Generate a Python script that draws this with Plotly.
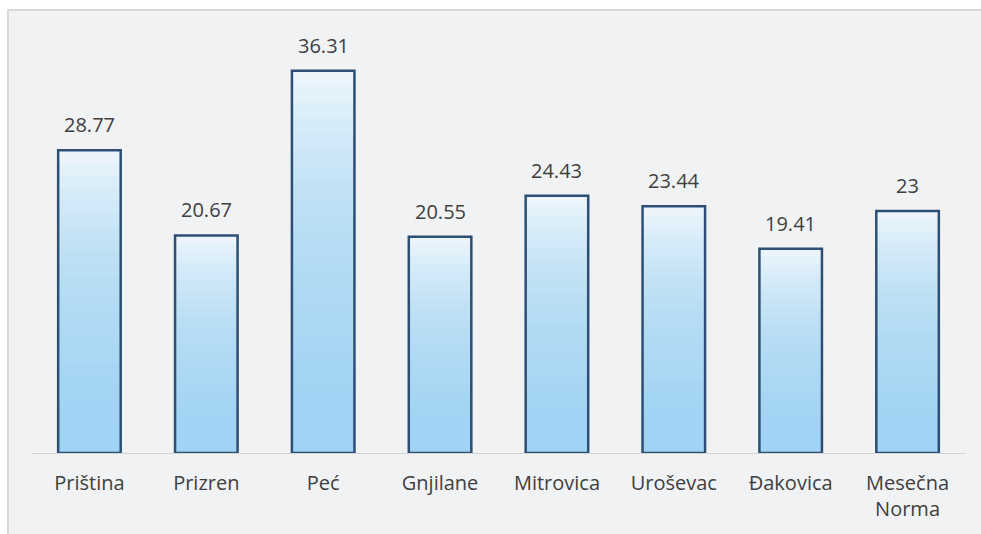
import plotly.graph_objects as go

categories = ["Priština", "Prizren", "Peć", "Gnjilane", "Mitrovica", "Uroševac", "Đakovica", "Mesečna<br>Norma"]
values = [28.77, 20.67, 36.31, 20.55, 24.43, 23.44, 19.41, 23]
labels = ["28.77", "20.67", "36.31", "20.55", "24.43", "23.44", "19.41", "23"]

W, H = 981, 534
L, R, T, B = 31, 15, 32, 79
BAR_W = 0.535
FONT = "Open Sans, sans-serif"
PW, PH = W - L - R, H - T - B

fig = go.Figure()

fig.add_trace(go.Bar(x=categories, y=values, width=BAR_W,
                     marker=dict(color="#f3f8fc", line=dict(width=0)),
                     hoverinfo="skip", showlegend=False))

N = 24
for k in range(1, N + 1):
    frac = k / N
    fig.add_trace(go.Bar(x=categories, y=[v * frac for v in values], width=BAR_W,
                         marker=dict(color="rgba(160,208,244,0.09)", line=dict(width=0)),
                         hoverinfo="skip", showlegend=False))

fig.add_trace(go.Bar(x=categories, y=values, width=BAR_W,
                     marker=dict(color="rgba(0,0,0,0)", line=dict(color="#2d4f74", width=2.5)),
                     showlegend=False))

annotations = [dict(x=c, y=v, text=t, showarrow=False, xref="x", yref="y",
                    yanchor="bottom", yshift=10,
                    font=dict(family=FONT, size=20, color="#404040"))
               for c, v, t in zip(categories, values, labels)]

fig.update_layout(
    width=W, height=H,
    margin=dict(l=L, r=R, t=T, b=B),
    barmode="overlay",
    paper_bgcolor="white",
    plot_bgcolor="rgba(0,0,0,0)",
    font=dict(family=FONT, size=20, color="#404040"),
    xaxis=dict(showline=True, linecolor="#d4d4d4", linewidth=1, ticks="",
               tickfont=dict(family=FONT, size=20, color="#404040"),
               ticklabelstandoff=12, showgrid=False, zeroline=False),
    yaxis=dict(range=[0, 40], visible=False, showgrid=False, zeroline=False),
    annotations=annotations,
    shapes=[dict(type="rect", xref="paper", yref="paper", layer="below",
                 x0=(8 - L) / PW, x1=(W + 10 - L) / PW,
                 y0=-(B + 10) / PH, y1=(PH + T - 10) / PH,
                 fillcolor="#f1f2f4", line=dict(color="#d9d9d9", width=2))],
)

fig.write_html("out.html", config={"displayModeBar": False},
               post_script="document.body.style.margin='0';document.body.style.overflow='hidden';")
